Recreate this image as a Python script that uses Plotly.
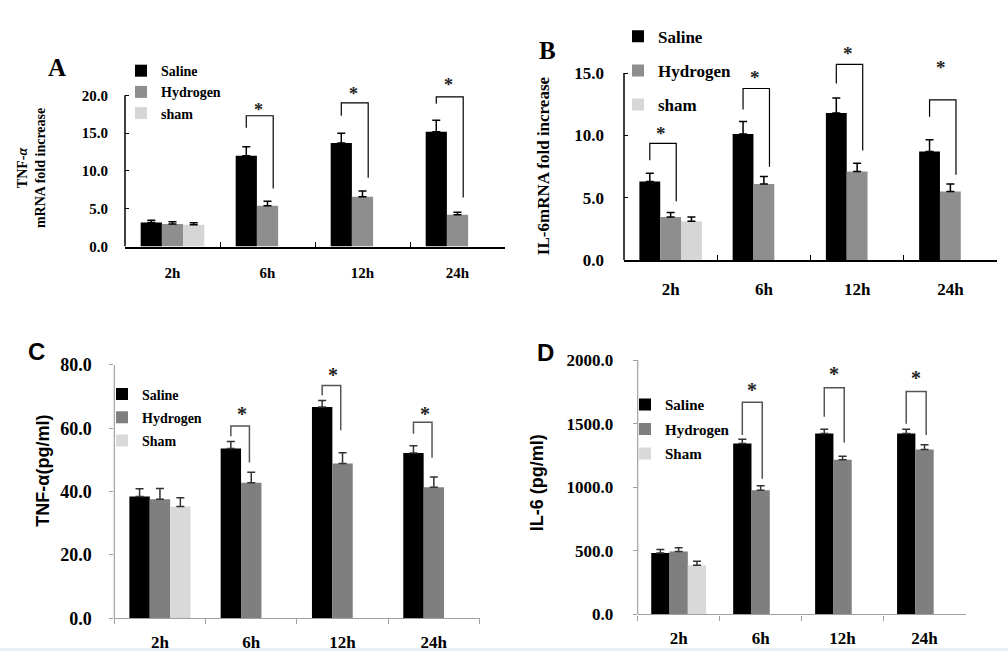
import plotly.graph_objects as go

categories = ["2h", "6h", "12h", "24h"]

# ---------------- Panel A : TNF-alpha mRNA fold increase ----------------
a_saline = [3.2, 12.0, 13.7, 15.2]
a_saline_err = [0.3, 1.2, 1.3, 1.5]
a_hydrogen = [3.0, 5.4, 6.6, 4.2]
a_hydrogen_err = [0.3, 0.6, 0.75, 0.35]
a_sham = [2.9, None, None, None]
a_sham_err = [0.25, 0, 0, 0]
a_bracket_top = [None, 17.3, 19.0, 19.8]
a_bracket_left = [None, 15.7, 17.3, 18.9]
a_bracket_right = [None, 7.7, 9.1, 6.5]
a_star = [None, 18.5, 20.6, 21.7]

# ---------------- Panel B : IL-6 mRNA fold increase ----------------
b_saline = [6.3, 10.1, 11.8, 8.7]
b_saline_err = [0.65, 1.0, 1.2, 0.95]
b_hydrogen = [3.45, 6.1, 7.1, 5.5]
b_hydrogen_err = [0.35, 0.6, 0.65, 0.6]
b_sham = [3.1, None, None, None]
b_sham_err = [0.35, 0, 0, 0]
b_bracket_top = [9.35, 13.76, 15.7, 12.85]
b_bracket_left = [8.0, 12.07, 14.15, 11.5]
b_bracket_right = [4.7, 7.48, 8.78, 6.83]
b_star = [10.4, 14.87, 16.8, 15.65]

# ---------------- Panel C : TNF-alpha (pg/ml) ----------------
c_saline = [38.5, 53.6, 66.7, 52.2]
c_saline_err = [2.4, 2.2, 2.1, 2.3]
c_hydrogen = [37.6, 42.8, 48.9, 41.4]
c_hydrogen_err = [3.4, 3.3, 3.4, 3.2]
c_sham = [35.3, None, None, None]
c_sham_err = [2.8, 0, 0, 0]
c_bracket_top = [None, 60.7, 73.5, 61.9]
c_bracket_left = [None, 57.5, 70.4, 58.3]
c_bracket_right = [None, 49.2, 59.4, 50.7]
c_star = [None, 65.5, 77.7, 65.5]

# ---------------- Panel D : IL-6 (pg/ml) ----------------
d_saline = [483, 1344, 1422, 1422]
d_saline_err = [28, 33, 34, 34]
d_hydrogen = [495, 976, 1217, 1296]
d_hydrogen_err = [30, 35, 26, 38]
d_sham = [386, None, None, None]
d_sham_err = [33, 0, 0, 0]
d_bracket_top = [None, 1669, 1783, 1753]
d_bracket_left = [None, 1410, 1555, 1499]
d_bracket_right = [None, 1067, 1351, 1410]
d_star = [None, 1786, 1918, 1880]

W, H = 1008, 661
SERIF = "Liberation Serif, Times New Roman, serif"
SANS = "Liberation Sans, Arial, sans-serif"


def px(x):
    return x / W


def py(y):
    return 1 - y / H


panels = [
    dict(letter="A", letter_font=SERIF, letter_size=25, letter_xy=(57, 59),
         saline=a_saline, saline_err=a_saline_err, hydrogen=a_hydrogen,
         hydrogen_err=a_hydrogen_err, sham=a_sham, sham_err=a_sham_err,
         btop=a_bracket_top, bleft=a_bracket_left, bright=a_bracket_right, star=a_star,
         sham_name="sham",
         x0=125, x1=505, ybot=244, ytop=88, yaxis_top=20, yrange_top=23, dtick=5,
         ytitle="<b>TNF-<i>α</i></b><br><b>mRNA fold increase</b>", ytitle_font=SERIF,
         ytitle_size=14, ytitle_xy=(31, 163),
         tick_font=SERIF, ytick_size=15, xtick_size=15, tickdir="inside",
         xstand=12, ystand=16,
         axis_color="#000000", axis_width=1.5, err_color="#000000",
         hyd_color="#8e8e8e", sham_color="#d6d6d6",
         br_color="#000000", br_width=1.2, star_size=18, right_off=0.06,
         legend=dict(x=121, y=46.5, size=14, gap=0)),
    dict(letter="B", letter_font=SERIF, letter_size=25, letter_xy=(547, 42),
         saline=b_saline, saline_err=b_saline_err, hydrogen=b_hydrogen,
         hydrogen_err=b_hydrogen_err, sham=b_sham, sham_err=b_sham_err,
         btop=b_bracket_top, bleft=b_bracket_left, bright=b_bracket_right, star=b_star,
         sham_name="sham",
         x0=624, x1=997, ybot=257.7, ytop=65, yaxis_top=15, yrange_top=17.5, dtick=5,
         ytitle="<b>IL-6mRNA fold increase</b>", ytitle_font=SERIF,
         ytitle_size=17, ytitle_xy=(543, 161),
         tick_font=SERIF, ytick_size=17, xtick_size=17, tickdir="inside",
         xstand=13, ystand=19,
         axis_color="#000000", axis_width=1.5, err_color="#000000",
         hyd_color="#8e8e8e", sham_color="#d6d6d6",
         br_color="#000000", br_width=1.2, star_size=19, right_off=0.06,
         legend=dict(x=618, y=9, size=17, gap=9)),
    dict(letter="C", letter_font=SANS, letter_size=24, letter_xy=(36, 352),
         saline=c_saline, saline_err=c_saline_err, hydrogen=c_hydrogen,
         hydrogen_err=c_hydrogen_err, sham=c_sham, sham_err=c_sham_err,
         btop=c_bracket_top, bleft=c_bracket_left, bright=c_bracket_right, star=c_star,
         sham_name="Sham",
         x0=114.3, x1=479.5, ybot=627.3, ytop=366, yaxis_top=80, yrange_top=80, dtick=20,
         ytitle="<b>TNF-α(pg/ml)</b>", ytitle_font=SANS,
         ytitle_size=18, ytitle_xy=(43, 475),
         tick_font=SERIF, ytick_size=18, xtick_size=17, tickdir="outside",
         xstand=8, ystand=14,
         axis_color="#a0a0a0", axis_width=1.2, err_color="#333333",
         hyd_color="#7f7f7f", sham_color="#d9d9d9",
         br_color="#555555", br_width=1.5, star_size=20, right_off=-0.02,
         legend=dict(x=102, y=380, size=14, gap=2)),
    dict(letter="D", letter_font=SANS, letter_size=24, letter_xy=(545, 353),
         saline=d_saline, saline_err=d_saline_err, hydrogen=d_hydrogen,
         hydrogen_err=d_hydrogen_err, sham=d_sham, sham_err=d_sham_err,
         btop=d_bracket_top, bleft=d_bracket_left, bright=d_bracket_right, star=d_star,
         sham_name="Sham",
         x0=637.7, x1=965.5, ybot=623.3, ytop=361, yaxis_top=2000, yrange_top=2000, dtick=500,
         ytitle="<b>IL-6 (pg/ml)</b>", ytitle_font=SANS,
         ytitle_size=18, ytitle_xy=(537, 488),
         tick_font=SERIF, ytick_size=17, xtick_size=17, tickdir="outside",
         xstand=8, ystand=16,
         axis_color="#a0a0a0", axis_width=1.2, err_color="#333333",
         hyd_color="#7f7f7f", sham_color="#d9d9d9",
         br_color="#555555", br_width=1.5, star_size=20, right_off=0.02,
         legend=dict(x=625, y=390, size=15, gap=2)),
]

fig = go.Figure()
shapes = []
annotations = []
layout_extra = {}

BAR_W = 0.67 / 3  # width of one bar in category units (bargap 0.33)

for i, p in enumerate(panels):
    n = "" if i == 0 else str(i + 1)
    xid, yid = "x" + n, "y" + n
    leg = "legend" + n
    pal = {"Saline": "#000000", "Hydrogen": p["hyd_color"], p["sham_name"]: p["sham_color"]}
    series = [("Saline", p["saline"], p["saline_err"]),
              ("Hydrogen", p["hydrogen"], p["hydrogen_err"]),
              (p["sham_name"], p["sham"], p["sham_err"])]
    for name, vals, errs in series:
        fig.add_trace(go.Bar(
            x=categories, y=vals, name="<b>" + name + "</b>",
            marker=dict(color=pal[name], line=dict(width=0)),
            error_y=dict(type="data", array=errs, arrayminus=[0] * len(errs),
                         symmetric=False, color=p["err_color"], thickness=1.5, width=4),
            xaxis=xid, yaxis=yid, legend=leg, legendgroup=p["letter"] + name,
            showlegend=True,
        ))

    ppu = (p["ybot"] - p["ytop"]) / p["yaxis_top"]
    dom_top = p["ybot"] - ppu * p["yrange_top"]
    yticks = [k * p["dtick"] for k in range(int(round(p["yaxis_top"] / p["dtick"])) + 1)]
    layout_extra["xaxis" + n] = dict(
        domain=[px(p["x0"]), px(p["x1"])], anchor=yid, type="category",
        categoryorder="array", categoryarray=categories,
        tickmode="array", tickvals=categories,
        ticktext=["<b>" + c + "</b>" for c in categories],
        showline=True, linecolor=p["axis_color"], linewidth=p["axis_width"],
        ticks=p["tickdir"], tickson="boundaries", ticklen=5, tickcolor=p["axis_color"],
        tickwidth=1, ticklabelstandoff=p["xstand"],
        tickfont=dict(family=p["tick_font"], size=p["xtick_size"], color="black"),
        showgrid=False, zeroline=False, fixedrange=True,
    )
    layout_extra["yaxis" + n] = dict(
        domain=[py(p["ybot"]), py(dom_top)], anchor=xid,
        range=[0, p["yrange_top"]],
        tickmode="array", tickvals=yticks,
        ticktext=["<b>%.1f</b>" % v for v in yticks],
        showline=False, ticks=p["tickdir"], ticklen=4, tickcolor=p["axis_color"], tickwidth=1,
        ticklabelstandoff=p["ystand"],
        tickfont=dict(family=p["tick_font"], size=p["ytick_size"], color="black"),
        showgrid=False, zeroline=False, fixedrange=True,
    )
    # y-axis line (from 0 up to the top tick)
    shapes.append(dict(type="line", xref=xid + " domain", yref=yid, x0=0, x1=0,
                       y0=0, y1=p["yaxis_top"],
                       line=dict(color=p["axis_color"], width=p["axis_width"])))

    # significance brackets + asterisks
    for k in range(len(categories)):
        if p["btop"][k] is None:
            continue
        xl = k - BAR_W
        xr = k + p["right_off"]
        shapes.append(dict(
            type="path", xref=xid, yref=yid,
            path=f"M {xl},{p['bleft'][k]} L {xl},{p['btop'][k]} L {xr},{p['btop'][k]} L {xr},{p['bright'][k]}",
            line=dict(color=p["br_color"], width=p["br_width"]),
        ))
        annotations.append(dict(
            x=k - 0.1, y=p["star"][k], xref=xid, yref=yid, text="<b>*</b>",
            showarrow=False, xanchor="center", yanchor="middle", yshift=-3,
            font=dict(family=SERIF, size=p["star_size"], color="#222222"),
        ))

    lx, ly = p["letter_xy"]
    annotations.append(dict(
        x=px(lx), y=py(ly), xref="paper", yref="paper", text="<b>" + p["letter"] + "</b>",
        showarrow=False, xanchor="center", yanchor="middle",
        font=dict(family=p["letter_font"], size=p["letter_size"], color="black"),
    ))
    tx, ty = p["ytitle_xy"]
    annotations.append(dict(
        x=px(tx), y=py(ty), xref="paper", yref="paper", text=p["ytitle"],
        textangle=-90, showarrow=False, xanchor="center", yanchor="middle",
        font=dict(family=p["ytitle_font"], size=p["ytitle_size"], color="black"),
    ))
    lg = p["legend"]
    layout_extra[leg] = dict(
        x=px(lg["x"]), y=py(lg["y"]), xanchor="left", yanchor="top",
        bgcolor="rgba(0,0,0,0)", borderwidth=0,
        font=dict(family=SERIF, size=lg["size"], color="black"),
        traceorder="grouped", tracegroupgap=lg["gap"], itemclick=False,
        itemdoubleclick=False,
    )

# faint blue strip at the bottom edge
shapes.append(dict(type="rect", xref="paper", yref="paper", x0=0, x1=1, y0=0, y1=3 / H,
                   fillcolor="#e6f2fa", line=dict(width=0), layer="below"))

fig.update_layout(
    width=W, height=H, margin=dict(l=0, r=0, t=0, b=0),
    paper_bgcolor="white", plot_bgcolor="white",
    barmode="group", bargap=0.33, bargroupgap=0,
    shapes=shapes, annotations=annotations,
    showlegend=True,
    **layout_extra,
)

fig.write_html(
    "out.html",
    config={"displayModeBar": False},
    post_script="document.body.style.margin='0px';"
                "document.documentElement.style.overflow='hidden';",
)
